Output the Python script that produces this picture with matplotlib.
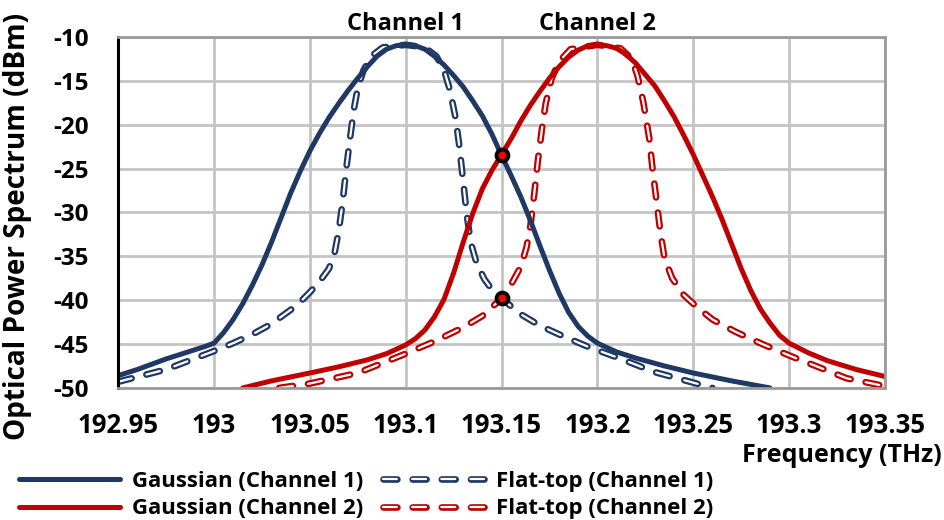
import matplotlib
matplotlib.use('Agg')
import matplotlib.pyplot as plt
from matplotlib.legend_handler import HandlerTuple

plt.rcParams['font.family'] = ['Open Sans', 'DejaVu Sans']
plt.rcParams['font.weight'] = 'bold'
plt.rcParams['lines.scale_dashes'] = False
plt.rcParams['axes.unicode_minus'] = False

# ── data ─────────────────────────────────────────────────────────────────────
gauss1_f = [192.95, 192.96, 192.975, 192.985, 192.995, 193.0, 193.005, 193.01,
            193.015, 193.02, 193.025, 193.03, 193.035, 193.04, 193.045, 193.05,
            193.055, 193.06, 193.065, 193.07, 193.075, 193.08, 193.085, 193.09,
            193.095, 193.1, 193.105, 193.11, 193.115, 193.12, 193.125, 193.13,
            193.135, 193.14, 193.145, 193.15, 193.155, 193.16, 193.165, 193.17,
            193.175, 193.18, 193.185, 193.19, 193.195, 193.2, 193.21, 193.22,
            193.235, 193.25, 193.27, 193.29]
gauss1_p = [-48.6, -47.9, -46.7, -46.0, -45.3, -44.9, -43.7, -42.2,
            -40.4, -38.3, -36.0, -33.4, -30.6, -27.8, -25.3, -23.0,
            -21.0, -19.2, -17.6, -16.1, -14.7, -13.4, -12.2, -11.4,
            -11.0, -10.9, -11.0, -11.4, -12.2, -13.2, -14.4, -15.7,
            -17.3, -19.0, -21.1, -23.5, -25.8, -28.2, -30.9, -33.8,
            -36.6, -39.2, -41.4, -43.0, -44.1, -44.9, -45.9, -46.6,
            -47.5, -48.3, -49.2, -50.0]

gauss2_f = [193.015, 193.03, 193.05, 193.065, 193.08, 193.09, 193.1, 193.105,
            193.11, 193.115, 193.12, 193.125, 193.13, 193.135, 193.14, 193.145,
            193.15, 193.155, 193.16, 193.165, 193.17, 193.175, 193.18, 193.185,
            193.19, 193.195, 193.2, 193.205, 193.21, 193.215, 193.22, 193.225,
            193.23, 193.235, 193.24, 193.245, 193.25, 193.255, 193.26, 193.265,
            193.27, 193.275, 193.28, 193.285, 193.29, 193.295, 193.3, 193.31,
            193.32, 193.335, 193.35]
gauss2_p = [-50.0, -49.2, -48.3, -47.6, -46.8, -46.1, -45.1, -44.4,
            -43.4, -41.9, -39.9, -36.9, -33.4, -30.1, -27.3, -25.2,
            -23.4, -21.6, -19.6, -17.8, -16.2, -14.7, -13.4, -12.3,
            -11.5, -11.0, -10.9, -11.0, -11.3, -12.0, -13.0, -14.3,
            -15.6, -17.3, -19.1, -21.2, -23.4, -25.8, -28.2, -30.8,
            -33.6, -36.4, -38.9, -41.0, -42.6, -44.0, -44.9, -46.0,
            -46.9, -47.9, -48.7]

flat1_f = [192.95, 192.975, 193.0, 193.01, 193.02, 193.03, 193.04, 193.045,
           193.05, 193.055, 193.06, 193.063, 193.065, 193.067, 193.069, 193.071,
           193.073, 193.075, 193.078, 193.082, 193.088, 193.1, 193.11, 193.116,
           193.12, 193.123, 193.126, 193.128, 193.13, 193.132, 193.134, 193.137,
           193.141, 193.145, 193.15, 193.16, 193.17, 193.18, 193.195, 193.21,
           193.23, 193.26]
flat1_p = [-49.3, -47.9, -45.8, -44.9, -43.9, -42.7, -41.1, -40.2,
           -39.1, -37.9, -36.4, -34.5, -32.2, -29.0, -25.0, -21.5,
           -18.2, -15.8, -13.8, -12.2, -11.2, -10.9, -11.2, -12.2,
           -13.8, -16.0, -19.2, -22.5, -26.5, -30.5, -33.5, -35.8,
           -37.6, -38.8, -39.8, -41.6, -42.9, -43.9, -45.3, -46.5,
           -48.2, -50.0]

flat2_f = [193.034, 193.05, 193.075, 193.1, 193.115, 193.13, 193.14, 193.15,
           193.155, 193.16, 193.163, 193.165, 193.167, 193.169, 193.171, 193.173,
           193.176, 193.18, 193.186, 193.2, 193.212, 193.218, 193.221, 193.224,
           193.227, 193.229, 193.231, 193.233, 193.235, 193.239, 193.245, 193.252,
           193.26, 193.272, 193.286, 193.3, 193.315, 193.33, 193.35]
flat2_p = [-50.0, -49.5, -48.3, -46.1, -44.7, -43.1, -41.8, -39.8,
           -38.2, -36.2, -34.0, -31.6, -28.0, -24.0, -20.6, -17.6,
           -14.8, -12.8, -11.4, -10.9, -11.3, -12.5, -14.5, -17.5,
           -21.5, -25.5, -29.0, -32.5, -35.2, -37.5, -39.4, -40.8,
           -42.2, -43.6, -45.0, -46.3, -47.6, -48.9, -49.8]

cross_f = [193.15, 193.15]
cross_p = [-23.5, -39.8]

channel_f = [193.1, 193.2]
channel_names = ['Channel 1', 'Channel 2']

x_ticks = [192.95, 193.0, 193.05, 193.1, 193.15, 193.2, 193.25, 193.3, 193.35]
x_labels = ['192.95', '193', '193.05', '193.1', '193.15', '193.2', '193.25', '193.3', '193.35']
y_ticks = [-50, -45, -40, -35, -30, -25, -20, -15, -10]

series_names = ['Gaussian (Channel 1)', 'Gaussian (Channel 2)',
                'Flat-top (Channel 1)', 'Flat-top (Channel 2)']

BLUE = '#1F3864'
RED = '#C00000'
DASH = (0, (10, 11))

fig = plt.figure(figsize=(9.45, 5.2), dpi=100)
ax = fig.add_axes([0.125, 0.254, 0.8115, 0.675])


def flat_line(f, p, color):
    # Excel style "double" dash: coloured capsule with a white core
    a = ax.plot(f, p, color=color, lw=4.8, linestyle=DASH,
                dash_capstyle='round', dash_joinstyle='round')[0]
    b = ax.plot(f, p, color='white', lw=1.6, linestyle=DASH,
                dash_capstyle='round', dash_joinstyle='round')[0]
    return a, b


f1 = flat_line(flat1_f, flat1_p, BLUE)
f2 = flat_line(flat2_f, flat2_p, RED)
g1, = ax.plot(gauss1_f, gauss1_p, color=BLUE, lw=3.6, solid_capstyle='round',
              solid_joinstyle='round')
g2, = ax.plot(gauss2_f, gauss2_p, color=RED, lw=3.6, solid_capstyle='round',
              solid_joinstyle='round')

ax.plot(cross_f, cross_p, 'o', ms=8.5, mfc='red', mec='black', mew=2.8, zorder=5)

for f, name in zip(channel_f, channel_names):
    ax.text(f, -9.95, name, ha='center', va='bottom', fontsize=17,
            fontweight='bold', clip_on=False)

ax.set_xlim(192.95, 193.35)
ax.set_ylim(-50, -10)
ax.set_xticks(x_ticks)
ax.set_xticklabels(x_labels)
ax.set_yticks(y_ticks)
ax.tick_params(length=0)
ax.tick_params(axis='x', pad=17.5, labelsize=18.5)
ax.tick_params(axis='y', pad=21, labelsize=17.5)
for lab in ax.get_xticklabels() + ax.get_yticklabels():
    lab.set_fontweight('bold')
ax.grid(True, color='#C4C4C4', lw=2)
ax.set_axisbelow(True)
for s in ['top', 'right', 'bottom']:
    ax.spines[s].set_color('#9A9A9A')
    ax.spines[s].set_linewidth(2)
ax.spines['left'].set_color('black')
ax.spines['left'].set_linewidth(2.2)

ax.set_ylabel('Optical Power Spectrum (dBm)', fontsize=20.2, fontweight='bold')
ax.yaxis.set_label_coords(-0.112, 0.46)
fig.text(0.997, 0.124, 'Frequency (THz)', ha='right', va='center', fontsize=18,
         fontweight='bold')

leg = fig.legend([g1, g2, f1, f2], series_names,
                 handler_map={tuple: HandlerTuple(ndivide=1, pad=0)},
                 ncol=2, loc='lower left', bbox_to_anchor=(0.008, -0.02),
                 frameon=False, fontsize=16, handlelength=4.55, borderpad=0.0,
                 handletextpad=0.54, columnspacing=0.9, labelspacing=0.3)
for t in leg.get_texts():
    t.set_fontweight('bold')

fig.savefig('out.png', dpi=100)
